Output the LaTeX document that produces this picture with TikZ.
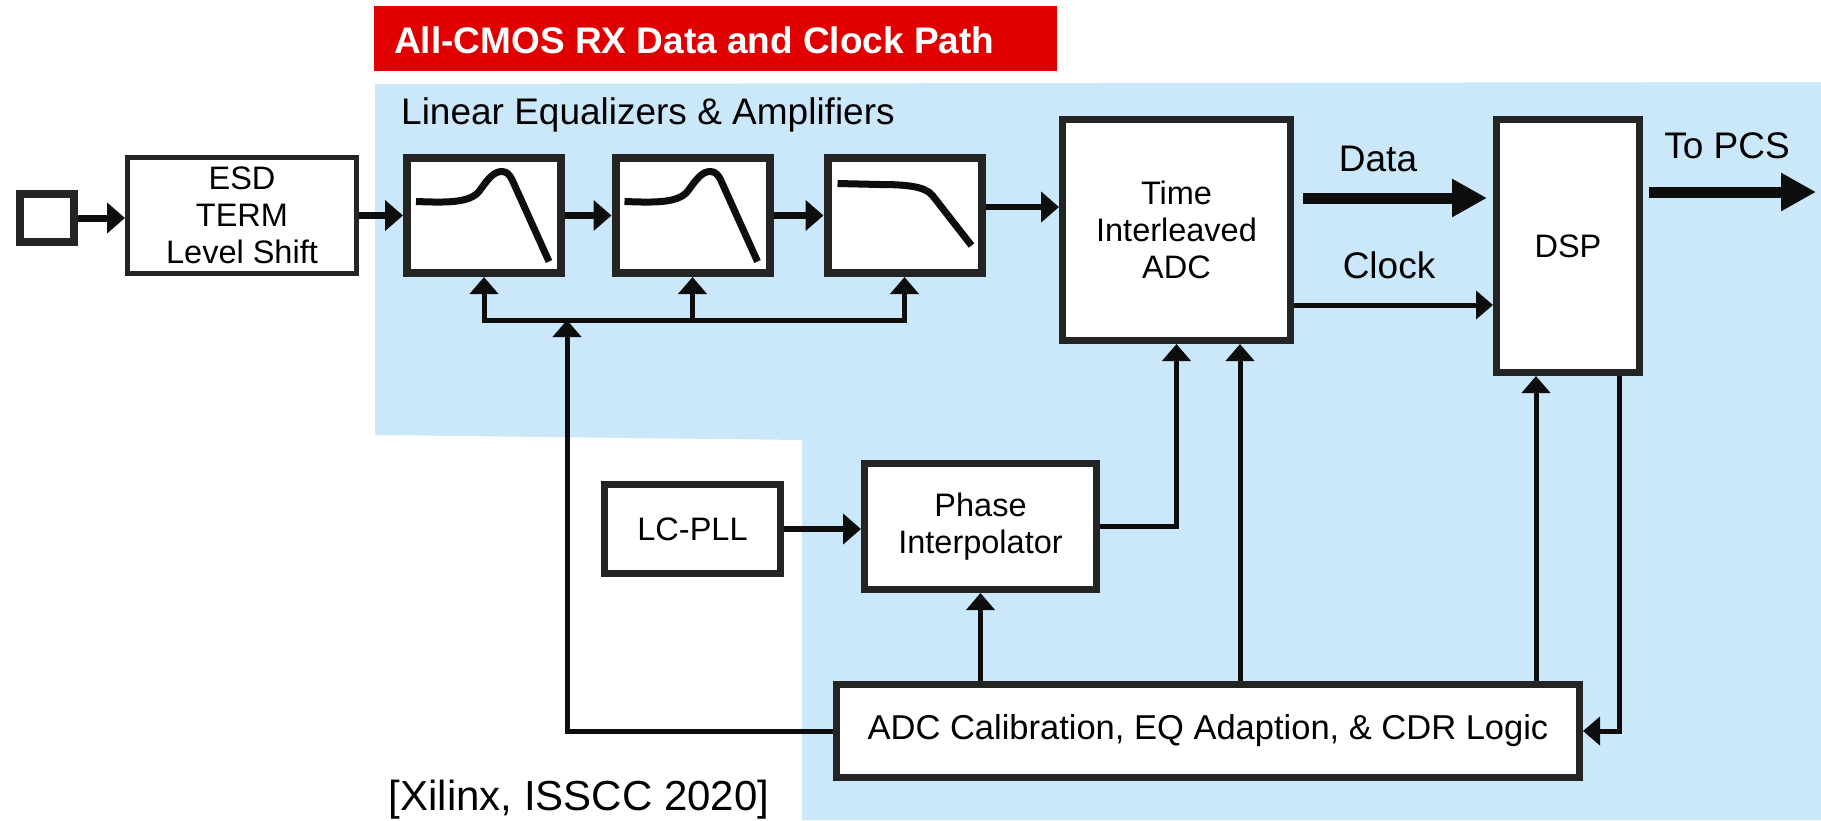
\documentclass[tikz,border=0pt]{standalone}
\usepackage{fontspec}
\setmainfont{Liberation Sans}
\usetikzlibrary{arrows.meta}
\definecolor{bgblue}{RGB}{203,232,251}
\definecolor{titlered}{RGB}{224,0,0}
\definecolor{boxgray}{RGB}{36,36,36}
\definecolor{wire}{RGB}{13,13,13}
\begin{document}
\begin{tikzpicture}[x=1pt,y=-1pt,
    blk/.style={draw=boxgray,fill=white,line width=7pt,inner sep=0pt,align=center,
      font=\fontsize{32.5}{37}\selectfont},
    sig/.style={draw=wire,line width=5pt,-{Triangle[length=17pt,width=28pt]}},
    fat/.style={draw=wire,line width=7pt,-{Triangle[length=18pt,width=30pt]}},
    wide/.style={draw=wire,line width=11pt,-{Triangle[length=35pt,width=36pt]}},
    lbl/.style={font=\fontsize{37}{40}\selectfont,inner sep=0pt},
    resp/.style={draw=wire,line width=7pt}]
  \useasboundingbox (0,0) rectangle (1821,820);
  % shaded region and banner
  \fill[bgblue] (375,84) -- (1821,82) -- (1821,820) -- (802,820) -- (802,440) -- (375,435) -- cycle;
  \fill[titlered] (374,6) rectangle (1057,71);
  \node[lbl,anchor=base west,text=white,font=\bfseries\fontsize{37}{40}\selectfont] (title) at (394,53) {All-CMOS RX Data and Clock Path};
  \node[lbl,anchor=base west] (eqlbl) at (401,124) {Linear Equalizers \& Amplifiers};
  \node[lbl,anchor=base,font=\fontsize{42}{46}\selectfont] (cite) at (579,810) {[Xilinx, ISSCC 2020]};

  % blocks
  \node[blk,line width=8pt,minimum width=54pt,minimum height=48pt] (in) at (47,218) {};
  \node[blk,line width=5pt,minimum width=229pt,minimum height=116pt] (esd) at (242,215.5) {ESD\\TERM\\Level Shift};
  \node[blk,line width=8pt,minimum width=154pt,minimum height=115pt] (eq1) at (484,215.5) {};
  \node[blk,line width=8pt,minimum width=154pt,minimum height=115pt] (eq2) at (692.5,215.5) {};
  \node[blk,line width=8pt,minimum width=154pt,minimum height=115pt] (eq3) at (904.5,215.5) {};
  \node[blk,minimum width=228pt,minimum height=221pt] (adc) at (1176.5,230) {Time\\Interleaved\\ADC};
  \node[blk,minimum width=143pt,minimum height=253pt] (dsp) at (1568,246) {DSP};
  \node[blk,minimum width=176pt,minimum height=89pt] (pll) at (692.5,529) {LC-PLL};
  \node[blk,minimum width=232pt,minimum height=126pt] (pi) at (980.5,526.5) {Phase\\Interpolator};
  \node[blk,minimum width=743pt,minimum height=93pt,font=\fontsize{34.5}{40}\selectfont] (cal) at (1208,731) {ADC Calibration, EQ Adaption, \& CDR Logic};

  % responses drawn in the equalizer boxes
  \foreach \n in {eq1,eq2}{
    \begin{scope}[shift={(\n.center)}]
      \draw[resp] (-68,-14) .. controls (-40,-13) and (-15,-12) .. (-5,-24)
        .. controls (5,-38) and (10,-44) .. (18,-44)
        .. controls (23,-44) and (26,-40) .. (28,-36) -- (65,46);
    \end{scope}
  }
  \begin{scope}[shift={(eq3.center)}]
    \draw[resp] (-67,-32) -- (-25,-31) .. controls (0,-31) and (20.6,-29.5) .. (28,-20) -- (67,30);
  \end{scope}

  \coordinate (bus) at (567,320);
  \coordinate (eqy) at (0,207);
  \coordinate (datay) at (0,198);
  \coordinate (clky) at (0,305);
  \coordinate (pcs) at (1816,192);

  % data path
  \draw[fat] (in.east) -- (esd.west |- in.east);
  \draw[fat] (esd.east) -- (eq1.west);
  \draw[fat] (eq1.east) -- (eq2.west);
  \draw[fat] (eq2.east) -- (eq3.west);
  \draw[fat,line width=6pt] (eq3.east |- eqy) -- (adc.west |- eqy);
  \draw[wide,shorten <=9pt,shorten >=6pt] (adc.east |- datay) -- (dsp.west |- datay);
  \draw[wide,shorten <=6pt] (dsp.east |- pcs) -- (pcs);
  \draw[sig] (adc.east |- clky) -- (dsp.west |- clky);
  \node[lbl,anchor=base] (datalbl) at (1378,171) {Data};
  \node[lbl,anchor=base] (clklbl) at (1389,278) {Clock};
  \node[lbl,anchor=base] (pcslbl) at (1727,158) {To PCS};

  % clock and control
  \draw[fat,line width=6pt] (pll.east) -- (pi.west |- pll.east);
  \draw[sig] (pi.east) -| (adc.south);
  \draw[sig,{Triangle[length=17pt,width=28pt]}-{Triangle[length=17pt,width=28pt]}] (eq1.south) |- (bus) -| (eq3.south);
  \draw[sig] (eq2.south |- bus) -- (eq2.south);
  \draw[sig] (cal.west) -| (bus);
  \draw[sig] (pi.south |- cal.north) -- (pi.south);
  \draw[sig] ([xshift=63.5pt]adc.south |- cal.north) -- ([xshift=63.5pt]adc.south);
  \draw[sig] ([xshift=-32pt]dsp.south |- cal.north) -- ([xshift=-32pt]dsp.south);
  \draw[sig] ([xshift=51pt]dsp.south) |- (cal.east);
\end{tikzpicture}
\end{document}
